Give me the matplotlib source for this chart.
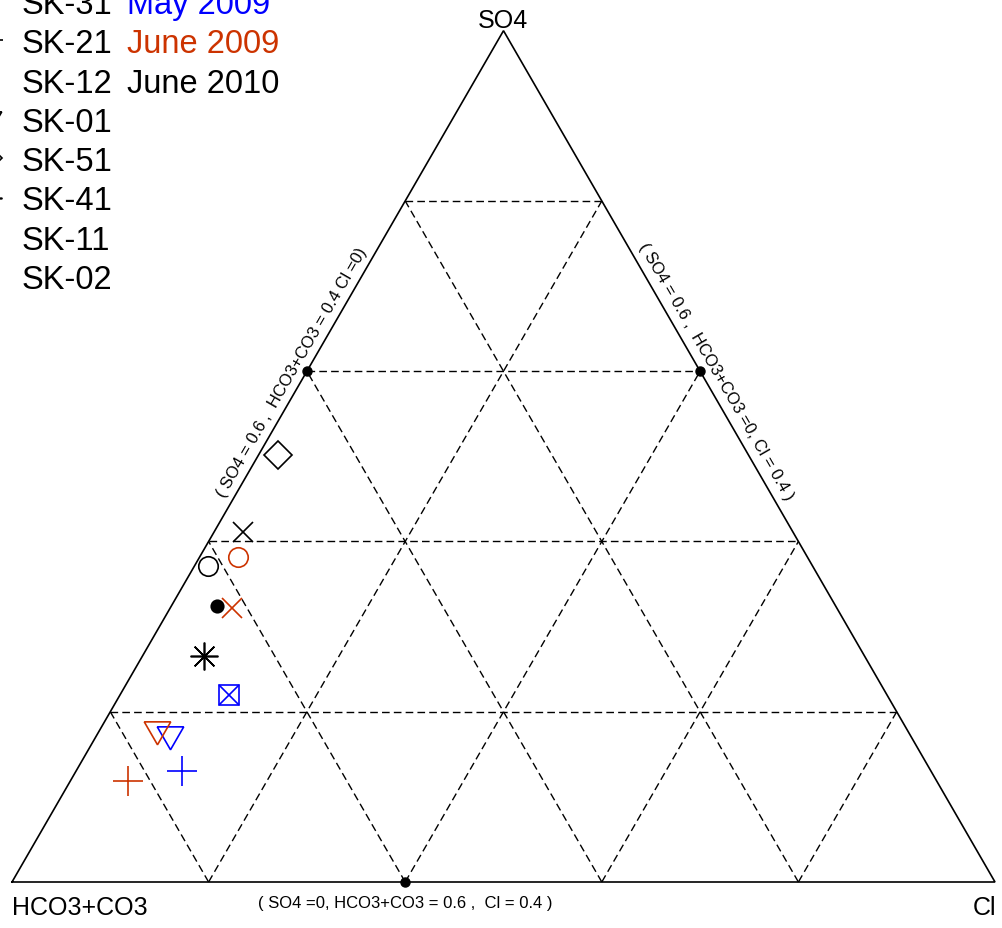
import numpy as np
import matplotlib
matplotlib.use("Agg")
import matplotlib.pyplot as plt

plt.rcParams['font.family'] = ['Liberation Sans', 'DejaVu Sans']

# ternary values (fractions of SO4, HCO3+CO3, Cl)
dates = ['May 2009', 'June 2009', 'June 2010']
date_colors = ['#0000FF', '#CC3300', '#000000']

may09_markers = ['sx', 'tri', '+']
may09_so4 = [0.220, 0.174, 0.130]
may09_hco3 = [0.669, 0.752, 0.762]
may09_cl = [0.111, 0.074, 0.108]

jun09_markers = ['o', 'x', 'tri', '+']
jun09_so4 = [0.382, 0.322, 0.180, 0.119]
jun09_hco3 = [0.579, 0.615, 0.762, 0.822]
jun09_cl = [0.039, 0.063, 0.058, 0.059]

jun10_markers = ['D', 'x', 'o', 'dot', 'ast']
jun10_so4 = [0.501, 0.411, 0.371, 0.324, 0.265]
jun10_hco3 = [0.479, 0.559, 0.615, 0.629, 0.672]
jun10_cl = [0.020, 0.030, 0.014, 0.047, 0.063]

samples = ['SK-31', 'SK-21', 'SK-12', 'SK-01', 'SK-51', 'SK-41', 'SK-11', 'SK-02']
sample_markers = ['sx', '+', 'x', 'tri', 'D', 'ast', 'o', 'dot']

# reference points marked on the edges (SO4, HCO3+CO3, Cl)
ref_so4 = [0.6, 0.6, 0.0]
ref_hco3 = [0.4, 0.0, 0.6]
ref_cl = [0.0, 0.4, 0.4]
ref_labels = ['( SO4 = 0.6 ,  HCO3+CO3 = 0.4 Cl =0)',
              '( SO4 = 0.6 ,  HCO3+CO3 =0, Cl = 0.4 )',
              '( SO4 =0, HCO3+CO3 = 0.6 ,  Cl = 0.4 )']

grid_levels = [0.2, 0.4, 0.6, 0.8]

H = np.sqrt(3) / 2


def tern(so4, hco3, cl):
    so4 = np.asarray(so4, float)
    cl = np.asarray(cl, float)
    return cl + so4 / 2, so4 * H


# marker styles
STYLES = {
    'o': dict(marker='o', ms=14, fill=False),
    'x': dict(marker='x', ms=14, fill=False),
    '+': dict(marker='+', ms=21, fill=False),
    'D': dict(marker='D', ms=14, fill=False),
    'tri': dict(marker=(3, 0, 180), ms=22, fill=False),
    'ast': dict(marker=(8, 2, 0), ms=20, fill=False),
    'dot': dict(marker='o', ms=9, fill=True),
}


def draw_marker(ax, x, y, key, color, **kw):
    if key == 'sx':
        ax.plot(x, y, ls='none', marker='s', ms=14, mfc='none', mec=color, mew=1.2, **kw)
        ax.plot(x, y, ls='none', marker='x', ms=14, mec=color, mew=1.2, **kw)
        return
    st = STYLES[key]
    ax.plot(x, y, ls='none', marker=st['marker'], ms=st['ms'],
            mfc=color if st['fill'] else 'none', mec=color, mew=1.2, **kw)


fig = plt.figure(figsize=(10.03, 9.29), dpi=100)
ax = fig.add_axes([0, 0, 1, 1])
ax.set_xlim(-12 / 983, 991 / 983)
ax.set_ylim(-46 / 983, 883 / 983)
ax.axis('off')

# dashed grid
for g in grid_levels:
    # constant SO4
    x, y = tern([g, g], [1 - g, 0], [0, 1 - g])
    ax.plot(x, y, color='black', lw=1.0, dashes=(5.5, 3))
    # constant Cl
    x, y = tern([0, 1 - g], [1 - g, 0], [g, g])
    ax.plot(x, y, color='black', lw=1.0, dashes=(5.5, 3))
    # constant HCO3+CO3
    x, y = tern([0, 1 - g], [g, g], [1 - g, 0])
    ax.plot(x, y, color='black', lw=1.0, dashes=(5.5, 3))

# triangle outline
x, y = tern([0, 0, 1, 0], [1, 0, 0, 1], [0, 1, 0, 0])
ax.plot(x, y, color='black', lw=1.2, solid_joinstyle='miter')

# reference points and labels
rx, ry = tern(ref_so4, ref_hco3, ref_cl)
ax.plot(rx, ry, ls='none', marker='o', ms=6.5, color='black')
label_offsets = [(-11, 0), (11.5, 0), (0, -15)]
label_rot = [60, -60, 0]
for i in range(3):
    ax.annotate(ref_labels[i], xy=(rx[i], ry[i]), xytext=label_offsets[i],
                textcoords='offset points', rotation=label_rot[i],
                rotation_mode='anchor', ha='center', va='center', fontsize=12)

# samples
series = [
    (may09_markers, may09_so4, may09_hco3, may09_cl),
    (jun09_markers, jun09_so4, jun09_hco3, jun09_cl),
    (jun10_markers, jun10_so4, jun10_hco3, jun10_cl),
]
for (mk, s, h, c), col in zip(series, date_colors):
    x, y = tern(s, h, c)
    for xi, yi, m in zip(x, y, mk):
        draw_marker(ax, xi, yi, m, col)

# corner labels
fig.text(503 / 1003, 1 - 28 / 929, 'SO4', ha='center', va='baseline', fontsize=18)
fig.text(12 / 1003, 1 - 915 / 929, 'HCO3+CO3', ha='left', va='baseline', fontsize=18)
fig.text(996 / 1003, 1 - 915 / 929, 'Cl', ha='right', va='baseline', fontsize=18)

# legend (partly cut off at the figure edge, as in the original)
row0 = 14.0
step = 39.3
for i, name in enumerate(samples):
    yb = row0 + i * step
    fig.text(22 / 1003, 1 - yb / 929, name, ha='left', va='baseline', fontsize=23.5)
    draw_marker(ax, -12 / 1003, 1 - (yb - 12) / 929, sample_markers[i], 'black',
                transform=ax.transAxes, clip_on=False)
for i, (d, col) in enumerate(zip(dates, date_colors)):
    yb = row0 + i * step
    fig.text(127 / 1003, 1 - yb / 929, d, ha='left', va='baseline', fontsize=23.5, color=col)

fig.savefig('out.png', dpi=100)
